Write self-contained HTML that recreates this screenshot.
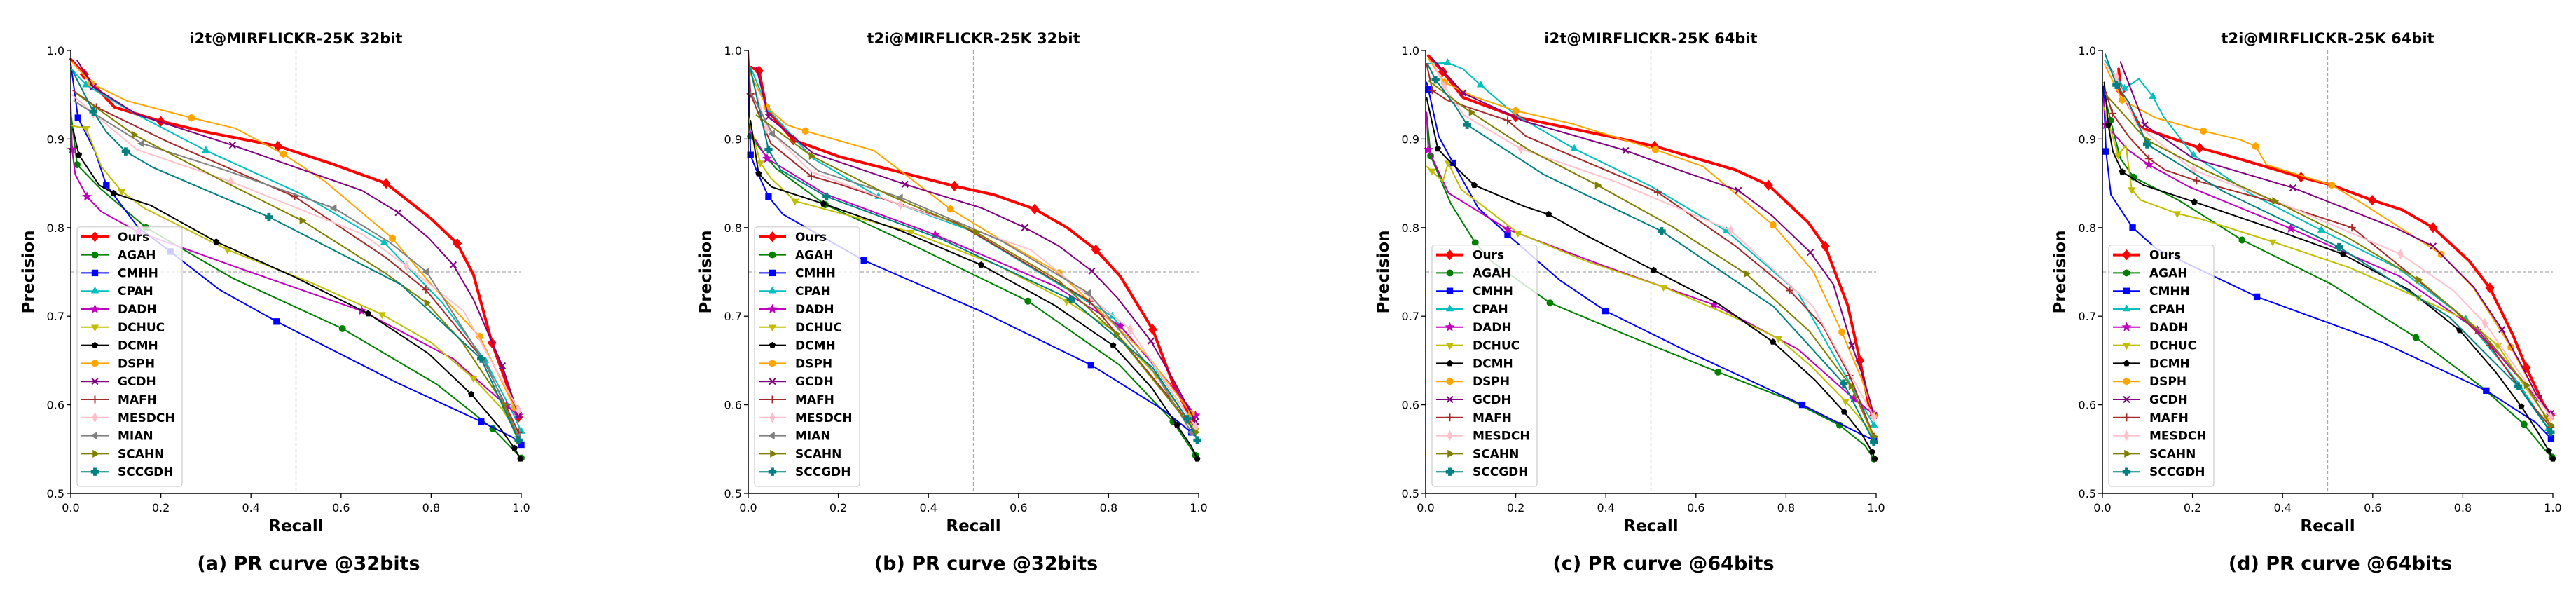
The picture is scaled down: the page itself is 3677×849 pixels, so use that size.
<!DOCTYPE html>
<html><head><meta charset="utf-8"><style>
html,body{margin:0;padding:0;background:#fff;}
svg{display:block;}
text{font-family:"DejaVu Sans","Liberation Sans",sans-serif;}
</style></head><body>
<svg id="fig" width="3677" height="849" viewBox="0 0 3677 849" xmlns="http://www.w3.org/2000/svg"></svg>
<script>
// ---------- chart data (recall, precision) ----------
const seriesNames = ["Ours","AGAH","CMHH","CPAH","DADH","DCHUC","DCMH","DSPH","GCDH","MAFH","MESDCH","MIAN","SCAHN","SCCGDH"];
const panelTitles = ["i2t@MIRFLICKR-25K 32bit","t2i@MIRFLICKR-25K 32bit","i2t@MIRFLICKR-25K 64bit","t2i@MIRFLICKR-25K 64bit"];
const panelCaptions = ["(a) PR curve @32bits","(b) PR curve @32bits","(c) PR curve @64bits","(d) PR curve @64bits"];
const xTicks = [0.0,0.2,0.4,0.6,0.8,1.0];
const yTicks = [0.5,0.6,0.7,0.8,0.9,1.0];
const xTickLabels = ["0.0","0.2","0.4","0.6","0.8","1.0"];
const yTickLabels = ["0.5","0.6","0.7","0.8","0.9","1.0"];
const refRecall = 0.5;
const refPrecision = 0.75;

// Panel (a)
const a_Ours=[[0,0.99],[0.03,0.973],[0.097,0.936],[0.2,0.92],[0.3,0.908],[0.46,0.892],[0.58,0.872],[0.7,0.85],[0.8,0.81],[0.858,0.782],[0.894,0.747],[0.935,0.67],[0.994,0.586]];
const a_AGAH=[[0,0.93],[0.014,0.871],[0.066,0.844],[0.167,0.80],[0.359,0.743],[0.603,0.686],[0.813,0.623],[0.937,0.573],[1.0,0.54]];
const a_CMHH=[[0,0.985],[0.016,0.924],[0.054,0.886],[0.079,0.848],[0.15,0.80],[0.221,0.773],[0.33,0.73],[0.457,0.694],[0.724,0.625],[0.911,0.581],[0.982,0.563],[1.0,0.555]];
const a_CPAH=[[0,0.98],[0.034,0.961],[0.145,0.928],[0.3,0.887],[0.512,0.838],[0.696,0.783],[0.825,0.715],[0.92,0.65],[0.982,0.59],[1.0,0.57]];
const a_DADH=[[0,0.94],[0.003,0.888],[0.01,0.86],[0.036,0.835],[0.068,0.818],[0.15,0.795],[0.387,0.752],[0.646,0.706],[0.849,0.652],[0.967,0.599],[0.994,0.588]];
const a_DCHUC=[[0.003,0.915],[0.034,0.912],[0.068,0.869],[0.113,0.841],[0.163,0.822],[0.348,0.775],[0.533,0.738],[0.691,0.702],[0.801,0.67],[0.894,0.63],[0.958,0.595],[0.989,0.569]];
const a_DCMH=[[0.005,0.911],[0.018,0.882],[0.063,0.848],[0.095,0.839],[0.178,0.825],[0.323,0.784],[0.494,0.745],[0.66,0.703],[0.794,0.658],[0.889,0.612],[0.951,0.575],[0.985,0.551],[0.998,0.539]];
const a_DSPH=[[0.003,0.987],[0.045,0.963],[0.125,0.943],[0.268,0.924],[0.366,0.912],[0.472,0.883],[0.565,0.852],[0.714,0.788],[0.8,0.736],[0.908,0.677],[0.985,0.597]];
const a_GCDH=[[0.014,0.989],[0.05,0.959],[0.146,0.928],[0.359,0.893],[0.646,0.842],[0.727,0.817],[0.795,0.788],[0.849,0.758],[0.894,0.719],[0.958,0.644],[0.994,0.588]];
const a_MAFH=[[0.005,0.955],[0.057,0.936],[0.215,0.897],[0.497,0.835],[0.70,0.766],[0.788,0.73],[0.917,0.65],[0.994,0.569]];
const a_MESDCH=[[0.003,0.95],[0.05,0.929],[0.147,0.888],[0.355,0.852],[0.646,0.793],[0.745,0.757],[0.872,0.706],[0.994,0.594]];
const a_MIAN=[[0.007,0.943],[0.158,0.895],[0.348,0.864],[0.585,0.822],[0.709,0.783],[0.79,0.75],[0.926,0.642],[0.994,0.564]];
const a_SCAHN=[[0.014,0.951],[0.14,0.905],[0.321,0.857],[0.513,0.808],[0.7,0.748],[0.79,0.715],[0.87,0.67],[0.962,0.60],[0.994,0.56]];
const a_SCCGDH=[[0.005,0.976],[0.05,0.931],[0.079,0.908],[0.122,0.886],[0.182,0.868],[0.44,0.812],[0.732,0.736],[0.911,0.652],[0.994,0.56]];

// Panel (b)
const b_Ours=[[0.006,0.981],[0.024,0.977],[0.041,0.933],[0.1,0.899],[0.203,0.88],[0.458,0.847],[0.546,0.837],[0.636,0.821],[0.708,0.80],[0.772,0.775],[0.826,0.745],[0.898,0.685],[0.943,0.624],[0.984,0.584]];
const b_AGAH=[[0,0.93],[0.005,0.903],[0.061,0.867],[0.171,0.826],[0.375,0.778],[0.621,0.717],[0.824,0.645],[0.943,0.581],[0.993,0.543]];
const b_CMHH=[[0,0.983],[0.005,0.882],[0.018,0.865],[0.045,0.835],[0.077,0.815],[0.257,0.763],[0.515,0.706],[0.761,0.645],[0.922,0.594],[0.984,0.569]];
const b_CPAH=[[0.005,0.981],[0.045,0.933],[0.144,0.878],[0.289,0.835],[0.487,0.798],[0.808,0.70],[0.898,0.646],[0.979,0.586]];
const b_DADH=[[0.005,0.908],[0.042,0.878],[0.171,0.838],[0.415,0.792],[0.681,0.734],[0.826,0.689],[0.966,0.606],[0.993,0.588]];
const b_DCHUC=[[0,0.925],[0.027,0.873],[0.05,0.856],[0.104,0.83],[0.17,0.821],[0.361,0.795],[0.552,0.758],[0.707,0.717],[0.808,0.685],[0.907,0.633],[0.993,0.571]];
const b_DCMH=[[0.005,0.921],[0.023,0.861],[0.052,0.846],[0.167,0.827],[0.336,0.797],[0.517,0.758],[0.681,0.712],[0.81,0.667],[0.896,0.619],[0.952,0.577],[0.984,0.553],[0.997,0.539]];
const b_DSPH=[[0.003,0.976],[0.041,0.936],[0.086,0.916],[0.127,0.909],[0.279,0.887],[0.449,0.821],[0.555,0.788],[0.69,0.749],[0.889,0.654],[0.984,0.59]];
const b_GCDH=[[0.018,0.981],[0.045,0.925],[0.144,0.884],[0.348,0.849],[0.519,0.822],[0.614,0.80],[0.69,0.779],[0.763,0.751],[0.819,0.721],[0.894,0.672],[0.943,0.629],[0.993,0.581]];
const b_MAFH=[[0,1.0],[0.005,0.951],[0.05,0.895],[0.14,0.858],[0.203,0.849],[0.338,0.826],[0.465,0.805],[0.758,0.717],[0.943,0.603],[0.993,0.569]];
const b_MESDCH=[[0.009,0.968],[0.041,0.912],[0.14,0.863],[0.338,0.826],[0.627,0.775],[0.848,0.685],[0.993,0.575]];
const b_MIAN=[[0.005,0.953],[0.054,0.906],[0.156,0.864],[0.338,0.834],[0.562,0.785],[0.756,0.726],[0.907,0.633],[0.984,0.569]];
const b_SCAHN=[[0.018,0.927],[0.14,0.881],[0.311,0.837],[0.505,0.795],[0.69,0.74],[0.817,0.68],[0.993,0.569]];
const b_SCCGDH=[[0.005,0.979],[0.045,0.888],[0.072,0.865],[0.174,0.835],[0.429,0.787],[0.716,0.719],[0.898,0.642],[0.975,0.584],[0.997,0.56]];

// Panel (c)
const c_Ours=[[0.006,0.994],[0.038,0.976],[0.083,0.947],[0.2,0.925],[0.426,0.901],[0.508,0.892],[0.688,0.865],[0.761,0.848],[0.849,0.806],[0.887,0.779],[0.937,0.712],[0.964,0.65],[0.986,0.594],[0.995,0.588]];
const c_AGAH=[[0.002,0.93],[0.011,0.881],[0.056,0.827],[0.11,0.783],[0.146,0.762],[0.276,0.715],[0.459,0.676],[0.649,0.637],[0.81,0.605],[0.919,0.577],[0.975,0.554],[0.995,0.539]];
const c_CMHH=[[0.002,0.964],[0.006,0.956],[0.029,0.903],[0.061,0.873],[0.117,0.822],[0.182,0.792],[0.297,0.741],[0.399,0.706],[0.578,0.661],[0.836,0.60],[0.958,0.569],[0.995,0.56]];
const c_CPAH=[[0.002,0.985],[0.049,0.986],[0.083,0.979],[0.122,0.961],[0.2,0.927],[0.33,0.889],[0.499,0.847],[0.668,0.796],[0.826,0.727],[0.995,0.577]];
const c_DADH=[[0.002,0.93],[0.006,0.888],[0.051,0.839],[0.182,0.798],[0.395,0.757],[0.64,0.713],[0.826,0.663],[0.95,0.607],[0.995,0.589]];
const c_DCHUC=[[0.002,0.869],[0.014,0.864],[0.038,0.852],[0.05,0.873],[0.079,0.843],[0.205,0.794],[0.352,0.763],[0.528,0.733],[0.675,0.701],[0.783,0.675],[0.855,0.644],[0.932,0.604],[0.977,0.577],[0.995,0.564]];
const c_DCMH=[[0.002,0.947],[0.027,0.889],[0.047,0.878],[0.108,0.848],[0.219,0.824],[0.273,0.815],[0.357,0.791],[0.506,0.752],[0.65,0.714],[0.771,0.671],[0.864,0.628],[0.929,0.592],[0.968,0.567],[0.991,0.547],[0.997,0.539]];
const c_DSPH=[[0.006,0.991],[0.042,0.964],[0.107,0.948],[0.2,0.932],[0.327,0.917],[0.51,0.888],[0.616,0.869],[0.771,0.803],[0.86,0.751],[0.924,0.682],[0.968,0.629],[0.995,0.588]];
const c_GCDH=[[0.015,0.991],[0.083,0.952],[0.214,0.921],[0.444,0.887],[0.562,0.865],[0.694,0.842],[0.77,0.813],[0.854,0.772],[0.905,0.736],[0.946,0.667],[0.973,0.629],[0.995,0.588]];
const c_MAFH=[[0.002,0.985],[0.015,0.955],[0.047,0.944],[0.182,0.921],[0.223,0.903],[0.515,0.84],[0.688,0.779],[0.808,0.729],[0.882,0.689],[0.941,0.633],[0.995,0.564]];
const c_MESDCH=[[0.018,0.985],[0.042,0.959],[0.085,0.927],[0.211,0.889],[0.421,0.852],[0.677,0.797],[0.86,0.711],[0.995,0.586]];
const c_SCAHN=[[0.006,0.966],[0.101,0.93],[0.228,0.888],[0.381,0.848],[0.551,0.80],[0.711,0.748],[0.852,0.683],[0.944,0.621],[0.995,0.564]];
const c_SCCGDH=[[0.004,0.985],[0.022,0.967],[0.065,0.938],[0.092,0.916],[0.262,0.86],[0.524,0.796],[0.772,0.711],[0.928,0.624],[0.995,0.558]];

// Panel (d)
const d_Ours=[[0.036,0.979],[0.041,0.954],[0.085,0.913],[0.216,0.89],[0.301,0.878],[0.441,0.857],[0.509,0.848],[0.599,0.831],[0.666,0.82],[0.734,0.80],[0.815,0.762],[0.86,0.732],[0.912,0.678],[0.941,0.642],[0.977,0.603],[0.995,0.588]];
const d_AGAH=[[0.002,0.955],[0.018,0.921],[0.04,0.878],[0.069,0.857],[0.169,0.831],[0.31,0.786],[0.505,0.737],[0.696,0.676],[0.842,0.62],[0.936,0.578],[0.979,0.551],[0.998,0.541]];
const d_CMHH=[[0.002,0.96],[0.008,0.886],[0.019,0.837],[0.067,0.80],[0.12,0.776],[0.343,0.722],[0.623,0.67],[0.852,0.616],[0.962,0.58],[0.996,0.562]];
const d_CPAH=[[0.005,0.989],[0.049,0.957],[0.081,0.968],[0.112,0.948],[0.136,0.925],[0.202,0.882],[0.326,0.839],[0.486,0.797],[0.657,0.754],[0.806,0.697],[0.923,0.625],[0.99,0.573]];
const d_DADH=[[0.002,0.946],[0.008,0.916],[0.056,0.888],[0.103,0.871],[0.193,0.846],[0.418,0.799],[0.66,0.745],[0.833,0.684],[0.95,0.616],[0.995,0.588]];
const d_DCHUC=[[0.004,0.935],[0.035,0.882],[0.052,0.893],[0.065,0.843],[0.085,0.831],[0.166,0.816],[0.223,0.809],[0.378,0.784],[0.548,0.755],[0.701,0.721],[0.811,0.695],[0.878,0.667],[0.932,0.625],[0.986,0.586]];
const d_DCMH=[[0.004,0.964],[0.013,0.916],[0.023,0.886],[0.044,0.863],[0.091,0.848],[0.204,0.829],[0.36,0.802],[0.534,0.77],[0.68,0.73],[0.793,0.684],[0.873,0.637],[0.93,0.598],[0.968,0.568],[0.991,0.548],[1.0,0.539]];
const d_DSPH=[[0.004,0.985],[0.044,0.944],[0.118,0.924],[0.224,0.909],[0.307,0.899],[0.34,0.892],[0.364,0.871],[0.509,0.848],[0.581,0.826],[0.752,0.77],[0.824,0.732],[0.907,0.665],[0.968,0.607],[0.995,0.586]];
const d_GCDH=[[0.04,0.987],[0.094,0.916],[0.202,0.878],[0.423,0.845],[0.657,0.798],[0.734,0.779],[0.824,0.733],[0.887,0.685],[0.932,0.643],[0.968,0.607],[0.995,0.59]];
const d_MAFH=[[0.008,0.953],[0.022,0.929],[0.058,0.903],[0.103,0.878],[0.139,0.865],[0.209,0.853],[0.373,0.83],[0.554,0.80],[0.775,0.71],[0.86,0.667],[0.95,0.602],[0.995,0.575]];
const d_MESDCH=[[0.004,0.985],[0.031,0.97],[0.076,0.916],[0.202,0.865],[0.409,0.825],[0.662,0.77],[0.779,0.729],[0.849,0.692],[0.995,0.586]];
const d_SCAHN=[[0.006,0.951],[0.098,0.899],[0.231,0.864],[0.382,0.83],[0.547,0.788],[0.702,0.741],[0.845,0.68],[0.941,0.622],[0.995,0.577]];
const d_SCCGDH=[[0.006,0.996],[0.031,0.961],[0.058,0.942],[0.099,0.894],[0.268,0.841],[0.525,0.778],[0.77,0.699],[0.923,0.621],[0.995,0.569]];

// ---------- styling (not data) ----------
const styles = {
  Ours:{c:"#ff0000",m:"D",lw:4,ms:13},
  AGAH:{c:"#008000",m:"o",lw:2,ms:11},
  CMHH:{c:"#0000ff",m:"s",lw:2,ms:11},
  CPAH:{c:"#00bfbf",m:"^",lw:2,ms:11},
  DADH:{c:"#bf00bf",m:"*",lw:2,ms:12},
  DCHUC:{c:"#bfbf00",m:"v",lw:2,ms:11},
  DCMH:{c:"#000000",m:"p",lw:2,ms:10},
  DSPH:{c:"#ffa500",m:"h",lw:2,ms:11},
  GCDH:{c:"#800080",m:"x",lw:2,ms:11},
  MAFH:{c:"#a52a2a",m:"+",lw:2,ms:11},
  MESDCH:{c:"#ffc0cb",m:"d",lw:2,ms:12},
  MIAN:{c:"#808080",m:"<",lw:2,ms:11},
  SCAHN:{c:"#808000",m:">",lw:2,ms:11},
  SCCGDH:{c:"#008080",m:"P",lw:2,ms:11}
};
const panelData = [
  {Ours:a_Ours,AGAH:a_AGAH,CMHH:a_CMHH,CPAH:a_CPAH,DADH:a_DADH,DCHUC:a_DCHUC,DCMH:a_DCMH,DSPH:a_DSPH,GCDH:a_GCDH,MAFH:a_MAFH,MESDCH:a_MESDCH,MIAN:a_MIAN,SCAHN:a_SCAHN,SCCGDH:a_SCCGDH},
  {Ours:b_Ours,AGAH:b_AGAH,CMHH:b_CMHH,CPAH:b_CPAH,DADH:b_DADH,DCHUC:b_DCHUC,DCMH:b_DCMH,DSPH:b_DSPH,GCDH:b_GCDH,MAFH:b_MAFH,MESDCH:b_MESDCH,MIAN:b_MIAN,SCAHN:b_SCAHN,SCCGDH:b_SCCGDH},
  {Ours:c_Ours,AGAH:c_AGAH,CMHH:c_CMHH,CPAH:c_CPAH,DADH:c_DADH,DCHUC:c_DCHUC,DCMH:c_DCMH,DSPH:c_DSPH,GCDH:c_GCDH,MAFH:c_MAFH,MESDCH:c_MESDCH,SCAHN:c_SCAHN,SCCGDH:c_SCCGDH},
  {Ours:d_Ours,AGAH:d_AGAH,CMHH:d_CMHH,CPAH:d_CPAH,DADH:d_DADH,DCHUC:d_DCHUC,DCMH:d_DCMH,DSPH:d_DSPH,GCDH:d_GCDH,MAFH:d_MAFH,MESDCH:d_MESDCH,SCAHN:d_SCAHN,SCCGDH:d_SCCGDH}
];
const panelLeft = [101, 1068, 2035, 3001];
const AX_W = 643, AX_TOP = 72, AX_BOT = 704;

const NS = "http://www.w3.org/2000/svg";
const svg = document.getElementById("fig");
function mk(tag, attrs, parent){
  const e = document.createElementNS(NS, tag);
  for (const k in attrs) e.setAttribute(k, attrs[k]);
  (parent||svg).appendChild(e);
  return e;
}
function markerShape(g, type, x, y, s, color){
  const r = s/2; let e;
  const poly = (pts)=>mk("polygon",{points:pts.map(p=>p.join(",")).join(" "),fill:color,stroke:color,"stroke-width":1},g);
  const reg = (n, rot, rad)=>{const pts=[];for(let i=0;i<n;i++){const a=rot+i*2*Math.PI/n;pts.push([x+rad*Math.cos(a),y+rad*Math.sin(a)]);}return poly(pts);};
  switch(type){
    case "D": e=poly([[x,y-r*1.05],[x+r*0.9,y],[x,y+r*1.05],[x-r*0.9,y]]); break;
    case "d": e=poly([[x,y-r*1.1],[x+r*0.6,y],[x,y+r*1.1],[x-r*0.6,y]]); break;
    case "o": e=mk("circle",{cx:x,cy:y,r:r*0.9,fill:color},g); break;
    case "s": e=mk("rect",{x:x-r*0.85,y:y-r*0.85,width:r*1.7,height:r*1.7,fill:color},g); break;
    case "^": e=reg(3,-Math.PI/2,r); break;
    case "v": e=reg(3,Math.PI/2,r); break;
    case "<": e=reg(3,Math.PI,r); break;
    case ">": e=reg(3,0,r); break;
    case "p": e=reg(5,-Math.PI/2,r*0.85); break;
    case "h": e=reg(6,-Math.PI/2,r*0.9); break;
    case "*": {const pts=[];for(let i=0;i<10;i++){const a=-Math.PI/2+i*Math.PI/5;const rr=i%2?r*0.45:r;pts.push([x+rr*Math.cos(a),y+rr*Math.sin(a)]);}e=poly(pts);break;}
    case "x": e=mk("path",{d:`M${x-r*0.8},${y-r*0.8}L${x+r*0.8},${y+r*0.8}M${x-r*0.8},${y+r*0.8}L${x+r*0.8},${y-r*0.8}`,stroke:color,"stroke-width":2,fill:"none"},g); break;
    case "+": e=mk("path",{d:`M${x-r},${y}L${x+r},${y}M${x},${y-r}L${x},${y+r}`,stroke:color,"stroke-width":2,fill:"none"},g); break;
    case "P": {const a=r*0.35,b=r*0.95;e=poly([[x-a,y-b],[x+a,y-b],[x+a,y-a],[x+b,y-a],[x+b,y+a],[x+a,y+a],[x+a,y+b],[x-a,y+b],[x-a,y+a],[x-b,y+a],[x-b,y-a],[x-a,y-a]]);break;}
  }
  return e;
}

panelData.forEach((data, pi)=>{
  const L = panelLeft[pi], R = L + AX_W;
  const xs = v => L + v*AX_W;
  const ys = v => AX_BOT - (v-0.5)/0.5*(AX_BOT-AX_TOP);
  const g = mk("g",{});
  
  

  const t = mk("text",{x:(L+R)/2,y:62,"text-anchor":"middle","font-size":21,"font-weight":"bold"},g);
  t.textContent = panelTitles[pi];
  
  

  const vl = mk("line",{x1:xs(refRecall),x2:xs(refRecall),y1:AX_TOP,y2:AX_BOT,stroke:"#aaaaaa","stroke-width":1.3,"stroke-dasharray":"5,3"},g);
  
  
  const hl = mk("line",{x1:L,x2:R,y1:ys(refPrecision),y2:ys(refPrecision),stroke:"#aaaaaa","stroke-width":1.3,"stroke-dasharray":"5,3"},g);
  
  

  const names = seriesNames.filter(n=>data[n]);
  names.forEach(n=>{
    const st = styles[n], pts = data[n];
    const sg = mk("g",{},g);
    
    
    const d = pts.map((p,i)=>(i?"L":"M")+xs(p[0]).toFixed(1)+","+ys(p[1]).toFixed(1)).join("");
    const path = mk("path",{d:d,fill:"none",stroke:st.c,"stroke-width":st.lw,"stroke-linejoin":"round","stroke-linecap":"round"},sg);
    
    
    pts.forEach((p,i)=>{
      if (i % 2 === 1 || i === pts.length-1) {
        const m = markerShape(sg, st.m, xs(p[0]), ys(p[1]), st.ms, st.c);
        
        
      }
    });
  });

  const ax = mk("path",{d:`M${L},${AX_TOP}L${L},${AX_BOT}L${R},${AX_BOT}`,fill:"none",stroke:"#000","stroke-width":1.5},g);
  
  
  xTicks.forEach((v,i)=>{
    mk("line",{x1:xs(v),x2:xs(v),y1:AX_BOT,y2:AX_BOT+6,stroke:"#000","stroke-width":1.3},g);
    const tl = mk("text",{x:xs(v),y:AX_BOT+26,"text-anchor":"middle","font-size":16},g);
    tl.textContent = xTickLabels[i];
    
    
  });
  yTicks.forEach((v,i)=>{
    mk("line",{x1:L-6,x2:L,y1:ys(v),y2:ys(v),stroke:"#000","stroke-width":1.3},g);
    const tl = mk("text",{x:L-9,y:ys(v)+6,"text-anchor":"end","font-size":16},g);
    tl.textContent = yTickLabels[i];
    
    
  });
  const xl = mk("text",{x:(L+R)/2,y:758,"text-anchor":"middle","font-size":23,"font-weight":"bold"},g);
  xl.textContent = "Recall";
  
  
  const yl = mk("text",{x:0,y:0,"text-anchor":"middle","font-size":23,"font-weight":"bold",transform:`translate(${L-53},${(AX_TOP+AX_BOT)/2}) rotate(-90)`},g);
  yl.textContent = "Precision";
  
  

  const rowH = 25.8, lgTop = AX_BOT - 10 - (names.length*rowH + 9);
  const lg = mk("g",{},g);
  
  
  mk("rect",{x:L+9,y:lgTop,width:150,height:names.length*rowH+9,rx:4,fill:"#fff","fill-opacity":0.8,stroke:"#cccccc","stroke-width":1.2},lg);
  names.forEach((n,i)=>{
    const st = styles[n], cy = lgTop + 14 + i*rowH;
    const le = mk("g",{},lg);
    
    
    mk("line",{x1:L+15,x2:L+54,y1:cy,y2:cy,stroke:st.c,"stroke-width":st.lw},le);
    markerShape(le, st.m, L+34.5, cy, st.ms, st.c);
    const tx = mk("text",{x:L+67,y:cy+6,"font-size":17,"font-weight":"bold"},le);
    tx.textContent = n;
  });

  const cap = mk("text",{x:(L+R)/2+18,y:813,"text-anchor":"middle","font-size":27,"font-weight":"bold","font-family":"Liberation Sans, sans-serif"},g);
  cap.textContent = panelCaptions[pi];
  
  
});
</script>
</body></html>
